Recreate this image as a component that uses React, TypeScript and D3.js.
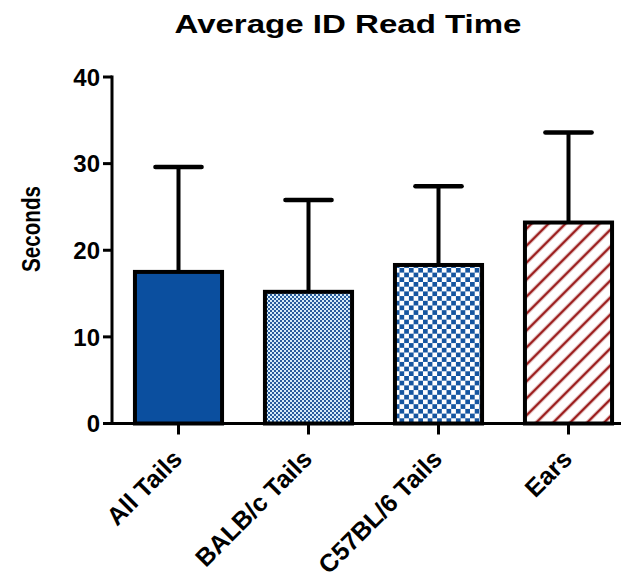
import * as d3 from "d3";

const categories = ["All Tails", "BALB/c Tails", "C57BL/6 Tails", "Ears"];
const means = [17.5, 15.2, 18.3, 23.2];
const sds = [12.1, 10.6, 9.1, 10.4];
const yTicks = [0, 10, 20, 30, 40];
const fills = ["#0b4f9f", "url(#fineCheck)", "url(#bigCheck)", "url(#hatch)"];

const W = 621;
const H = 580;
const font = "Arial, 'Liberation Sans', sans-serif";

export default function App() {
  const x = d3.scaleBand<string>()
    .domain(categories)
    .range([113.5, 633.5])
    .paddingInner(0.33)
    .paddingOuter(0.165);
  const y = d3.scaleLinear().domain([0, 40]).range([423.5, 77]);
  const bw = x.bandwidth();
  const capW = bw * 0.53;

  return (
    <svg width={W} height={H} style={{ position: "absolute", left: 0, top: 0, background: "#fff" }}>
      <defs>
        <pattern id="fineCheck" width={4} height={4} patternUnits="userSpaceOnUse">
          <rect width={4} height={4} fill="#d6ecf8" />
          <rect width={2} height={2} fill="#2a5c9c" />
          <rect x={2} y={2} width={2} height={2} fill="#2a5c9c" />
        </pattern>
        <pattern id="bigCheck" width={9.4} height={9.4} patternUnits="userSpaceOnUse">
          <rect width={9.4} height={9.4} fill="#ffffff" />
          <rect width={4.7} height={4.7} fill="#1656a0" />
          <rect x={4.7} y={4.7} width={4.7} height={4.7} fill="#1656a0" />
        </pattern>
        <pattern id="hatch" width={12} height={12} patternUnits="userSpaceOnUse" patternTransform="rotate(45)">
          <rect width={12} height={12} fill="#ffffff" />
          <line x1={6} y1={0} x2={6} y2={12} stroke="#9b1c1c" strokeWidth={2.6} />
        </pattern>
      </defs>

      <text x={348} y={33} textAnchor="middle" fontFamily={font} fontWeight="bold" fontSize={26}
        textLength={347} lengthAdjust="spacingAndGlyphs">
        Average ID Read Time
      </text>

      <text transform={`translate(40,229) rotate(-90)`} textAnchor="middle" fontFamily={font}
        fontWeight="bold" fontSize={25} textLength={86} lengthAdjust="spacingAndGlyphs">
        Seconds
      </text>

      {categories.map((c, i) => {
        const cx = x(c)! + bw / 2;
        return (
          <g key={c}>
            <line x1={cx} x2={cx} y1={y(means[i])} y2={y(means[i] + sds[i])} stroke="#000" strokeWidth={4} />
            <line x1={cx - capW / 2} x2={cx + capW / 2} y1={y(means[i] + sds[i])} y2={y(means[i] + sds[i])}
              stroke="#000" strokeWidth={4.5} strokeLinecap="round" />
            <rect x={x(c)} y={y(means[i])} width={bw} height={y(0) - y(means[i])}
              fill={fills[i]} stroke="#000" strokeWidth={4} />
          </g>
        );
      })}

      {/* y axis */}
      <line x1={112} x2={112} y1={y(40) - 1.5} y2={y(0) + 1.5} stroke="#000" strokeWidth={3} />
      {yTicks.map((t) => (
        <g key={t}>
          <line x1={103} x2={112} y1={y(t)} y2={y(t)} stroke="#000" strokeWidth={3} />
          <text x={100} y={y(t)} dy="0.36em" textAnchor="end" fontFamily={font} fontWeight="bold" fontSize={24}>
            {t}
          </text>
        </g>
      ))}

      {/* x axis */}
      <line x1={110.5} x2={621} y1={y(0)} y2={y(0)} stroke="#000" strokeWidth={3} />
      {categories.map((c) => {
        const cx = x(c)! + bw / 2;
        return (
          <g key={c}>
            <line x1={cx} x2={cx} y1={y(0)} y2={y(0) + 11} stroke="#000" strokeWidth={3} />
            <text transform={`translate(${cx + 5},${y(0) + 37}) rotate(-45)`} textAnchor="end"
              fontFamily={font} fontWeight="bold" fontSize={25}>
              {c}
            </text>
          </g>
        );
      })}
    </svg>
  );
}
